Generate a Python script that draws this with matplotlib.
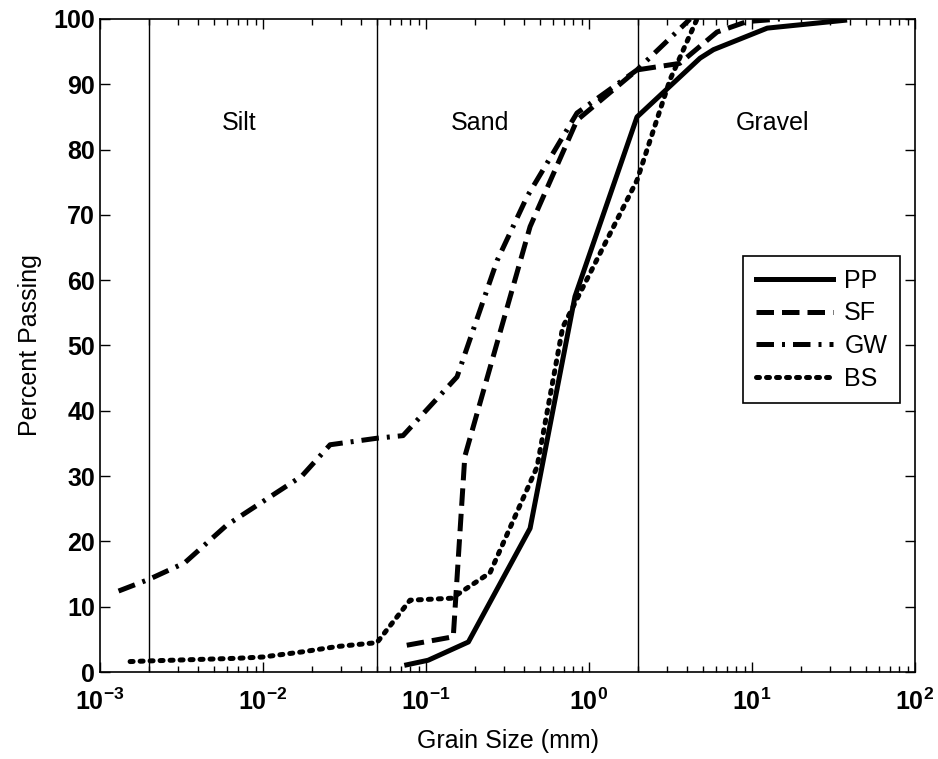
import numpy as np
import matplotlib.pyplot as plt
from matplotlib.ticker import FuncFormatter

plt.rcParams['font.family'] = ['Liberation Sans', 'DejaVu Sans']
plt.rcParams['mathtext.fontset'] = 'custom'
plt.rcParams['mathtext.rm'] = 'Liberation Sans'
plt.rcParams['mathtext.bf'] = 'Liberation Sans:bold'

# grain size (mm) / percent passing
pp_x = [0.0762, 0.103, 0.182, 0.435, 0.82, 1.97, 4.8, 5.8, 12.4, 37.0]
pp_y = [1.1, 1.8, 4.6, 22.0, 57.5, 85.0, 94.0, 95.3, 98.6, 99.8]

sf_x = [0.0762, 0.147, 0.173, 0.435, 0.844, 1.97, 3.6, 6.1, 9.3, 14.8]
sf_y = [4.1, 5.4, 33.0, 68.2, 84.5, 92.2, 93.2, 98.0, 99.6, 100.0]

gw_x = [0.0013, 0.002, 0.0033, 0.006, 0.0173, 0.0258, 0.05, 0.0723, 0.155,
        0.273, 0.417, 0.844, 1.97, 4.17]
gw_y = [12.4, 14.2, 16.7, 22.5, 30.0, 34.8, 35.8, 36.2, 45.2,
        63.0, 72.8, 85.6, 92.2, 100.0]

bs_x = [0.00153, 0.002, 0.0069, 0.01, 0.0176, 0.0284, 0.05, 0.0798, 0.144,
        0.247, 0.48, 0.69, 1.97, 3.14, 4.6]
bs_y = [1.6, 1.7, 2.1, 2.3, 3.1, 3.9, 4.5, 11.0, 11.3,
        15.2, 31.4, 52.8, 75.3, 90.7, 100.0]

bounds = [0.002, 0.05, 2.0]
zones = ['Silt', 'Sand', 'Gravel']
zone_x = [0.0071, 0.214, 13.3]
zone_y = [84.0, 84.0, 84.0]

fig = plt.figure(figsize=(9.38, 7.59), dpi=100)
ax = fig.add_axes([0.1066, 0.1146, 0.8689, 0.8604])

lw = 3.6
ax.plot(pp_x, pp_y, color='black', lw=lw, ls='-', label='PP')
ax.plot(sf_x, sf_y, color='black', lw=lw, ls=(0, (3.5, 1.6)), label='SF')
ax.plot(gw_x, gw_y, color='black', lw=lw, ls=(0, (3.5, 1.6, 0.6, 1.6)), label='GW')
ax.plot(bs_x, bs_y, color='black', lw=lw, ls=(0, (0.6, 1.4)),
        dash_capstyle='round', label='BS')

for b in bounds:
    ax.axvline(b, color='black', lw=1.0)

for name, tx, ty in zip(zones, zone_x, zone_y):
    ax.text(tx, ty, name, fontsize=18, ha='center', va='center')

ax.set_xscale('log')
ax.set_xlim(1e-3, 1e2)
ax.set_ylim(0, 100)
ax.set_yticks(np.arange(0, 101, 10))
ax.xaxis.set_major_formatter(FuncFormatter(
    lambda v, p: r'$\mathbf{10^{%d}}$' % int(round(np.log10(v)))))
ax.tick_params(axis='both', which='both', direction='in', top=True, right=True,
               labelsize=18)
ax.tick_params(axis='x', which='major', pad=12)
ax.tick_params(which='major', length=7, width=1)
ax.tick_params(which='minor', length=4, width=1)
for lab in ax.get_yticklabels():
    lab.set_fontweight('bold')
for s in ax.spines.values():
    s.set_linewidth(1.2)

ax.set_xlabel('Grain Size (mm)', fontsize=18, labelpad=10)
ax.set_ylabel('Percent Passing', fontsize=18, labelpad=8)

leg = ax.legend(loc='upper left', bbox_to_anchor=(0.789, 0.637), fontsize=18,
                handlelength=3.1, labelspacing=0.35, borderpad=0.5,
                handletextpad=0.45, fancybox=False, framealpha=1,
                edgecolor='black', borderaxespad=0)
leg.get_frame().set_linewidth(1.2)

fig.savefig('out.png', dpi=100)
